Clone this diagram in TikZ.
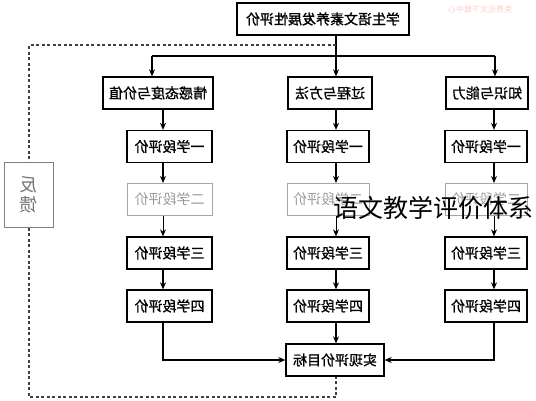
\documentclass[tikz,border=0pt]{standalone}
\usepackage{fontspec}
\usepackage{graphicx}
\newfontfamily\cjk{Noto Sans CJK SC}
\newfontfamily\cjkb[FakeBold=1.2]{Noto Sans CJK SC}
\usetikzlibrary{arrows.meta}
\tikzset{
  bx/.style={draw, line width=1.3pt, minimum height=32pt, inner sep=0pt, font=\cjkb\fontsize{14}{14}\selectfont},
  gbx/.style={bx, draw=black!35, text=black!40, line width=1pt, font=\cjk\fontsize{14}{14}\selectfont},
  arr/.style={line width=1.2pt, -{Stealth[length=7pt,width=6pt]}},
  ln/.style={line width=1.2pt},
  dsh/.style={line width=1.1pt, draw=black!75, dash pattern=on 3pt off 2.5pt},
}
\newcommand{\mr}[1]{\reflectbox{#1}}
\begin{document}
\begin{tikzpicture}[x=1pt,y=-1pt]
\useasboundingbox (0,0) rectangle (536,400);
% top
\node[bx, minimum width=172pt] (T) at (323,19) {\mr{学生语文素养发展性评价}};
% categories
\node[bx, minimum width=110pt] (L0) at (158,93) {\mr{情感态度与价值}};
\node[bx, minimum width=84pt] (M0) at (330,93) {\mr{过程与方法}};
\node[bx, minimum width=82pt] (R0) at (487,93) {\mr{知识与能力}};
% stages
\node[bx, minimum width=85pt] (L1) at (169.5,146.5) {\mr{一学段评价}};
\node[gbx, minimum width=85pt] (L2) at (169.5,199.5) {\mr{二学段评价}};
\node[bx, minimum width=85pt] (L3) at (169.5,253) {\mr{三学段评价}};
\node[bx, minimum width=85pt] (L4) at (169.5,306) {\mr{四学段评价}};
\node[bx, minimum width=82pt] (M1) at (328,146.5) {\mr{一学段评价}};
\node[gbx, minimum width=82pt] (M2) at (328,199.5) {\mr{二学段评价}};
\node[bx, minimum width=82pt] (M3) at (328,253) {\mr{三学段评价}};
\node[bx, minimum width=82pt] (M4) at (328,306) {\mr{四学段评价}};
\node[bx, minimum width=82pt] (R1) at (486,146.5) {\mr{一学段评价}};
\node[gbx, minimum width=82pt] (R2) at (486,199.5) {\mr{二学段评价}};
\node[bx, minimum width=82pt] (R3) at (486,253) {\mr{三学段评价}};
\node[bx, minimum width=82pt] (R4) at (486,306) {\mr{四学段评价}};
% target
\node[bx, minimum width=98pt] (G) at (335,360) {\mr{实现评价目标}};
% feedback
\node[draw=black!50, line width=1pt, minimum width=49pt, minimum height=65pt, inner sep=0pt,
      text=black!55, font=\cjk\fontsize{18}{20}\selectfont, align=center] (F) at (29,194.5)
      {\mr{反}\\\mr{馈}};
% coordinates
\coordinate (xl) at (163,0);
\coordinate (xm) at (336,0);
\coordinate (xr) at (494,0);
\coordinate (jl) at (152,56);
\coordinate (jm) at (336,56);
\coordinate (jr) at (495,56);
\coordinate (d1) at (336,45);
\coordinate (d2) at (30,397);
% top connectors
\draw[ln] (T.south -| jm) -- (jm);
\draw[ln] (jl) -- (jr);
\draw[arr] (jl) -- (jl |- L0.north);
\draw[arr] (jm) -- (jm |- M0.north);
\draw[arr] (jr) -- (jr |- R0.north);
% column arrows
\foreach \c/\x in {L/xl, M/xm, R/xr}{
  \draw[arr] (\c0.south -| \x) -- (\c1.north -| \x);
  \draw[arr] (\c1.south -| \x) -- (\c2.north -| \x);
  \draw[arr, line width=0.9pt] (\c2.south -| \x) -- (\c3.north -| \x);
  \draw[arr] (\c3.south -| \x) -- (\c4.north -| \x);
}
% to target
\draw[arr] (L4.south -| xl) |- (G.west);
\draw[arr] (R4.south -| xr) |- (G.east);
\draw[arr] (M4.south -| xm) -- (G.north -| xm);
% feedback loop
\draw[dsh] (d1) -| (F.north);
\draw[dsh] (F.south) -- (F.south |- d2) -| (G.south -| xm);
% overlay texts
\node[font=\cjk\fontsize{25}{25}\selectfont, inner sep=0pt] (W) at (433,208) {语文教学评价体系};
\node[font=\cjk\fontsize{8}{8}\selectfont, text=red!20, inner sep=0pt] (WM) at (480,9) {\mr{免费论文下载中心}};
\end{tikzpicture}
\end{document}
